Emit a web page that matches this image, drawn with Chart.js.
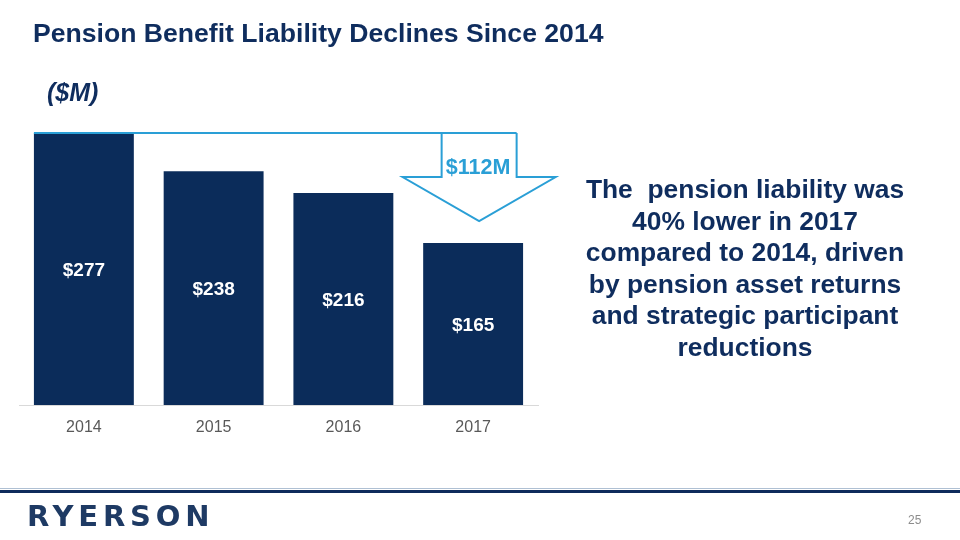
<!DOCTYPE html>
<html>
<head>
<meta charset="utf-8">
<script src="https://cdn.jsdelivr.net/npm/chart.js@4/dist/chart.umd.min.js"></script>
<style>
  html, body { margin:0; padding:0; background:#fff; }
  body { width:960px; height:540px; position:relative; overflow:hidden; font-family:"Liberation Sans", Arial, sans-serif; }
  #c { position:absolute; left:0; top:0; }
  .t { position:absolute; white-space:nowrap; }
  #title { left:33px; top:18px; font-size:26.6px; font-weight:bold; color:#0F2D5E; }
  #unit { left:47px; top:78px; font-size:25px; font-weight:bold; font-style:italic; color:#0F2D5E; }
  #note { left:545px; top:174px; width:400px; text-align:center; font-size:26.4px; font-weight:bold; color:#0F2D5E; line-height:31.5px; }
  #line1 { position:absolute; left:0; top:488px; width:960px; height:1px; background:#AFC0D3; }
  #line2 { position:absolute; left:0; top:490px; width:960px; height:3px; background:#0E2B5C; }
  #logo { left:27px; top:499px; font-family:"DejaVu Sans", sans-serif; font-size:29px; font-weight:bold; color:#1E3A64; letter-spacing:4.8px; }
  #page { left:908px; top:513px; font-size:12px; color:#8C8C8C; }
</style>
</head>
<body>
<canvas id="c" width="960" height="540"></canvas>
<div class="t" id="title">Pension Benefit Liability Declines Since 2014</div>
<div class="t" id="unit">($M)</div>
<div class="t" id="note">The&nbsp; pension liability was<br>40% lower in 2017<br>compared to 2014, driven<br>by pension asset returns<br>and strategic participant<br>reductions</div>
<div id="line1"></div>
<div id="line2"></div>
<div class="t" id="logo">RYERSON</div>
<div class="t" id="page">25</div>
<script>
const categories = ["2014", "2015", "2016", "2017"];
const liability = [277, 238, 216, 165];
const valueLabels = ["$277", "$238", "$216", "$165"];
const declineLabel = "$112M";

const NAVY = "#0B2C5A";
const BLUE = "#2A9FD6";

const decorPlugin = {
  id: "decor",
  afterDatasetsDraw(chart) {
    const ctx = chart.ctx;
    const meta = chart.getDatasetMeta(0);
    const ys = chart.scales.y;
    const xs = chart.scales.x;
    ctx.save();
    ctx.fillStyle = "#FFFFFF";
    ctx.font = "bold 19px 'Liberation Sans', Arial, sans-serif";
    ctx.textAlign = "center";
    ctx.textBaseline = "middle";
    meta.data.forEach((bar, i) => {
      const yMid = (bar.y + bar.base) / 2 + 2;
      ctx.fillText(valueLabels[i], bar.x, yMid);
    });
    ctx.restore();

    const first = meta.data[0];
    const yTop = ys.getPixelForValue(liability[0]);
    const cx = xs.getPixelForValue(liability.length - 1) + 6;
    const shaftHalf = 37.5, headHalf = 76.5;
    const shaftBot = yTop + 44, tipY = yTop + 88;
    ctx.save();
    ctx.strokeStyle = BLUE;
    ctx.lineWidth = 2;
    ctx.lineJoin = "miter";
    ctx.beginPath();
    ctx.moveTo(first.x - first.width / 2, yTop);
    ctx.lineTo(cx + shaftHalf, yTop);
    ctx.stroke();
    ctx.beginPath();
    ctx.moveTo(cx - shaftHalf, yTop);
    ctx.lineTo(cx - shaftHalf, shaftBot);
    ctx.lineTo(cx - headHalf, shaftBot);
    ctx.lineTo(cx, tipY);
    ctx.lineTo(cx + headHalf, shaftBot);
    ctx.lineTo(cx + shaftHalf, shaftBot);
    ctx.lineTo(cx + shaftHalf, yTop);
    ctx.stroke();
    ctx.fillStyle = BLUE;
    ctx.font = "bold 21.5px 'Liberation Sans', Arial, sans-serif";
    ctx.textAlign = "center";
    ctx.textBaseline = "middle";
    ctx.fillText(declineLabel, cx - 1, yTop + 35);
    ctx.restore();
  }
};

new Chart(document.getElementById("c"), {
  type: "bar",
  data: {
    labels: categories,
    datasets: [{
      data: liability,
      backgroundColor: NAVY,
      borderWidth: 0,
      barPercentage: 1,
      categoryPercentage: 0.77
    }]
  },
  options: {
    responsive: false,
    animation: false,
    layout: { padding: { left: 19, right: 422, top: 133, bottom: 95 } },
    plugins: { legend: { display: false }, tooltip: { enabled: false } },
    scales: {
      x: {
        grid: { display: false },
        border: { display: true, color: "#D9D9D9", width: 1 },
        ticks: { color: "#595959", font: { family: "'Liberation Sans', Arial, sans-serif", size: 16 }, padding: 5 },
        afterFit(scale) { scale.height = 40; }
      },
      y: { display: false, min: 0, max: 277 }
    }
  },
  plugins: [decorPlugin]
});
</script>
</body>
</html>
